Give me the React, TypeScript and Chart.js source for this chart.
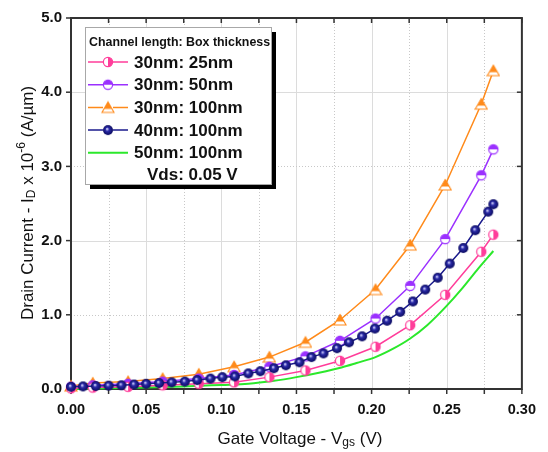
import React, { useEffect, useRef } from 'react';
import { Chart, registerables } from 'chart.js';
Chart.register(...registerables);

const xTickValues = [0, 0.05, 0.1, 0.15, 0.2, 0.25, 0.3];
const xTickLabels = ['0.00', '0.05', '0.10', '0.15', '0.20', '0.25', '0.30'];
const yTickValues = [0, 1, 2, 3, 4, 5];
const yTickLabels = ['0.0', '1.0', '2.0', '3.0', '4.0', '5.0'];

const seriesNames = ['30nm: 25nm', '30nm: 50nm', '30nm: 100nm', '40nm: 100nm', '50nm: 100nm'];
const legendTitle = 'Channel length: Box thickness';
const legendNote = 'Vds: 0.05 V';

const coarseVgs = [0, 0.0145, 0.038, 0.061, 0.085, 0.1085, 0.132, 0.156, 0.179, 0.2026, 0.2257, 0.249, 0.273, 0.281];
const id30nm25nm = [0.01, 0.02, 0.03, 0.05, 0.07, 0.09, 0.16, 0.25, 0.38, 0.57, 0.86, 1.27, 1.85, 2.08];
const id30nm50nm = [0.03, 0.05, 0.07, 0.1, 0.14, 0.19, 0.3, 0.44, 0.65, 0.95, 1.39, 2.02, 2.88, 3.23];
const id30nm100nm = [0.04, 0.08, 0.1, 0.14, 0.2, 0.3, 0.43, 0.63, 0.93, 1.34, 1.94, 2.75, 3.84, 4.29];

const fineVgs = [0, 0.008, 0.0165, 0.025, 0.0336, 0.042, 0.05, 0.0586, 0.067, 0.0757, 0.084, 0.0928, 0.1007, 0.109, 0.118, 0.126, 0.135, 0.143, 0.152, 0.16, 0.168, 0.177, 0.185, 0.1937, 0.2022, 0.2103, 0.219, 0.2275, 0.2357, 0.244, 0.252, 0.261, 0.269, 0.2776, 0.281];
const id40nm100nm = [0.03, 0.035, 0.04, 0.045, 0.05, 0.06, 0.07, 0.08, 0.09, 0.1, 0.12, 0.14, 0.16, 0.17, 0.21, 0.24, 0.28, 0.32, 0.36, 0.43, 0.48, 0.55, 0.63, 0.71, 0.815, 0.92, 1.04, 1.18, 1.34, 1.5, 1.69, 1.9, 2.14, 2.39, 2.49];

const smoothVgs = [0, 0.025, 0.05, 0.075, 0.1, 0.118, 0.135, 0.15, 0.165, 0.18, 0.19, 0.2026, 0.215, 0.2257, 0.237, 0.249, 0.26, 0.27, 0.281];
const id50nm100nm = [0.0, 0.01, 0.02, 0.035, 0.055, 0.07, 0.11, 0.16, 0.22, 0.29, 0.35, 0.43, 0.55, 0.68, 0.86, 1.1, 1.35, 1.6, 1.86];

const PINK = '#ff3d9a';
const PURPLE = '#9b30ff';
const ORANGE = '#ff8a1a';
const NAVY = '#1a1a8c';
const GREEN = '#2be82b';
const FONT = '"Liberation Sans", Arial, sans-serif';

function makeMarker(kind: string): HTMLCanvasElement {
  const c = document.createElement('canvas');
  c.width = 14;
  c.height = 14;
  const g = c.getContext('2d')!;
  const cx = 7, cy = 7, r = 4.6;
  if (kind === 'pink' || kind === 'purple') {
    const col = kind === 'pink' ? PINK : PURPLE;
    g.beginPath(); g.arc(cx, cy, r, 0, Math.PI * 2); g.fillStyle = '#fff'; g.fill();
    g.beginPath();
    if (kind === 'pink') g.arc(cx, cy, r, -Math.PI / 2, Math.PI / 2);
    else g.arc(cx, cy, r, Math.PI, Math.PI * 2);
    g.closePath(); g.fillStyle = col; g.fill();
    g.beginPath(); g.arc(cx, cy, r, 0, Math.PI * 2);
    g.lineWidth = 1.2; g.strokeStyle = col; g.stroke();
  } else if (kind === 'orange') {
    const path = () => { g.beginPath(); g.moveTo(cx, cy - 5.5); g.lineTo(cx + 6, cy + 5); g.lineTo(cx - 6, cy + 5); g.closePath(); };
    path(); g.fillStyle = '#fff'; g.fill();
    g.save(); path(); g.clip(); g.fillStyle = ORANGE; g.fillRect(0, 0, 14, cy + 1.5); g.restore();
    path(); g.lineWidth = 1.1; g.strokeStyle = ORANGE; g.stroke();
  } else {
    const grd = g.createRadialGradient(cx - 1, cy - 1.2, 0.3, cx, cy, 5);
    grd.addColorStop(0, '#d8d8ff');
    grd.addColorStop(0.35, '#2a2aa8');
    grd.addColorStop(1, '#0a0a5e');
    g.beginPath(); g.arc(cx, cy, 5, 0, Math.PI * 2); g.fillStyle = grd; g.fill();
  }
  return c;
}

function drawRich(ctx: CanvasRenderingContext2D, parts: { t: string; s: number; dy: number }[], cx: number, cy: number) {
  let total = 0;
  for (const p of parts) { ctx.font = `${p.s}px ${FONT}`; total += ctx.measureText(p.t).width; }
  let x = cx - total / 2;
  ctx.textBaseline = 'middle';
  ctx.textAlign = 'left';
  for (const p of parts) {
    ctx.font = `${p.s}px ${FONT}`;
    ctx.fillText(p.t, x, cy + p.dy);
    x += ctx.measureText(p.t).width;
  }
}

export default function App() {
  const ref = useRef<HTMLCanvasElement | null>(null);
  useEffect(() => {
    const canvas = ref.current!;
    const mPink = makeMarker('pink');
    const mPurple = makeMarker('purple');
    const mOrange = makeMarker('orange');
    const mNavy = makeMarker('navy');

    const pts = (xs: number[], ys: number[]) => xs.map((x, i) => ({ x, y: ys[i] }));

    const framePlugin = {
      id: 'frame',
      beforeDatasetsDraw(chart: any) {
        const { ctx, chartArea: a, scales } = chart;
        const xs = scales.x, ys = scales.y;
        ctx.save();
        // grid
        for (let i = 1; i < 12; i++) {
          const v = i * 0.025;
          const px = Math.round(xs.getPixelForValue(v)) + 0.5;
          ctx.beginPath();
          ctx.lineWidth = 1;
          if (i % 2 === 0) { ctx.setLineDash([]); ctx.strokeStyle = '#dcdcdc'; }
          else { ctx.setLineDash([1, 2]); ctx.strokeStyle = '#c8c8c8'; }
          ctx.moveTo(px, a.top); ctx.lineTo(px, a.bottom); ctx.stroke();
        }
        for (let v = 1; v < 5; v++) {
          const py = Math.round(ys.getPixelForValue(v)) + 0.5;
          ctx.beginPath();
          if (v % 2 === 0) { ctx.setLineDash([]); ctx.strokeStyle = '#dcdcdc'; }
          else { ctx.setLineDash([1, 2]); ctx.strokeStyle = '#c8c8c8'; }
          ctx.moveTo(a.left, py); ctx.lineTo(a.right, py); ctx.stroke();
        }
        ctx.setLineDash([]);
        // ticks
        ctx.strokeStyle = '#333';
        ctx.lineWidth = 1.5;
        for (let i = 0; i <= 12; i++) {
          const px = xs.getPixelForValue(i * 0.025);
          ctx.beginPath(); ctx.moveTo(px, a.bottom); ctx.lineTo(px, a.bottom + 5); ctx.stroke();
          ctx.beginPath(); ctx.moveTo(px, a.top); ctx.lineTo(px, a.top + 5); ctx.stroke();
        }
        for (let v = 0; v <= 5; v++) {
          const py = ys.getPixelForValue(v);
          ctx.beginPath(); ctx.moveTo(a.left - 5, py); ctx.lineTo(a.left, py); ctx.stroke();
          ctx.beginPath(); ctx.moveTo(a.right - 5, py); ctx.lineTo(a.right, py); ctx.stroke();
        }
        // frame
        ctx.lineWidth = 2;
        ctx.strokeStyle = '#333';
        ctx.strokeRect(a.left, a.top, a.right - a.left, a.bottom - a.top);
        ctx.restore();
      },
      afterDraw(chart: any) {
        const { ctx } = chart;
        ctx.save();
        ctx.fillStyle = '#111';
        // x title
        drawRich(ctx, [
          { t: 'Gate Voltage - V', s: 17, dy: 0 },
          { t: 'gs', s: 12, dy: 4 },
          { t: ' (V)', s: 17, dy: 0 },
        ], 300, 439);
        // y title
        ctx.save();
        ctx.translate(28, 203);
        ctx.rotate(-Math.PI / 2);
        drawRich(ctx, [
          { t: 'Drain Current - I', s: 17, dy: 0 },
          { t: 'D', s: 12, dy: 4 },
          { t: ' x 10', s: 17, dy: 0 },
          { t: '-6', s: 12, dy: -6 },
          { t: ' (A/\u00b5m)', s: 17, dy: 0 },
        ], 0, 0);
        ctx.restore();
        // legend
        const bx = 85, by = 27, bw = 186, bh = 157;
        ctx.fillStyle = '#000';
        ctx.fillRect(bx + 5, by + 5, bw, bh);
        ctx.fillStyle = '#fff';
        ctx.fillRect(bx, by, bw, bh);
        ctx.strokeStyle = '#a8a8a8';
        ctx.lineWidth = 1;
        ctx.strokeRect(bx + 0.5, by + 0.5, bw, bh);
        ctx.fillStyle = '#111';
        ctx.textBaseline = 'middle';
        ctx.textAlign = 'left';
        ctx.font = `bold 12.4px ${FONT}`;
        ctx.fillText(legendTitle, 89, 43);
        const cols = [PINK, PURPLE, ORANGE, NAVY, GREEN];
        const marks = [mPink, mPurple, mOrange, mNavy, null];
        seriesNames.forEach((name, i) => {
          const y = 62 + i * 22.7;
          ctx.strokeStyle = cols[i];
          ctx.lineWidth = i === 4 ? 2 : 1.5;
          ctx.beginPath(); ctx.moveTo(88, y); ctx.lineTo(128, y); ctx.stroke();
          const m = marks[i];
          if (m) {
            ctx.fillStyle = '#fff';
            ctx.fillRect(103, y - 6, 10, 12);
            ctx.drawImage(m, 108 - 7, y - 7);
          }
          ctx.fillStyle = '#111';
          ctx.font = `bold 17px ${FONT}`;
          ctx.fillText(name, 134, y + 1);
        });
        ctx.font = `bold 17px ${FONT}`;
        ctx.fillText(legendNote, 147, 175);
        ctx.restore();
      },
    };

    const chart = new Chart(canvas, {
      type: 'line',
      data: {
        datasets: [
          { label: seriesNames[3], data: pts(fineVgs, id40nm100nm), borderColor: NAVY, borderWidth: 1.5, pointStyle: mNavy as any, pointRadius: 5, clip: false as any },
          { label: seriesNames[0], data: pts(coarseVgs, id30nm25nm), borderColor: PINK, borderWidth: 1.5, pointStyle: mPink as any, pointRadius: 5, clip: false as any },
          { label: seriesNames[1], data: pts(coarseVgs, id30nm50nm), borderColor: PURPLE, borderWidth: 1.5, pointStyle: mPurple as any, pointRadius: 5, clip: false as any },
          { label: seriesNames[2], data: pts(coarseVgs, id30nm100nm), borderColor: ORANGE, borderWidth: 1.5, pointStyle: mOrange as any, pointRadius: 5, clip: false as any },
          { label: seriesNames[4], data: pts(smoothVgs, id50nm100nm), borderColor: GREEN, borderWidth: 2, pointRadius: 0, cubicInterpolationMode: 'monotone', clip: false as any },
        ],
      },
      options: {
        responsive: false,
        animation: false,
        layout: { padding: { left: 0, top: 15, right: 21, bottom: 0 } },
        plugins: { legend: { display: false }, tooltip: { enabled: false } },
        scales: {
          x: {
            type: 'linear',
            min: 0,
            max: 0.3,
            grid: { display: false, drawTicks: false },
            border: { display: false },
            afterBuildTicks: (s: any) => { s.ticks = xTickValues.map((v) => ({ value: v })); },
            afterFit: (s: any) => { s.height = 63; },
            ticks: {
              padding: 12,
              color: '#111',
              font: { family: FONT, size: 14.5, weight: 'bold' },
              callback: (_v: any, i: number) => xTickLabels[i],
              maxRotation: 0,
              autoSkip: false,
            },
          },
          y: {
            type: 'linear',
            min: 0,
            max: 5,
            grid: { display: false, drawTicks: false },
            border: { display: false },
            afterBuildTicks: (s: any) => { s.ticks = yTickValues.map((v) => ({ value: v })); },
            afterFit: (s: any) => { s.width = 71; },
            ticks: {
              padding: 9,
              color: '#111',
              font: { family: FONT, size: 15, weight: 'bold' },
              callback: (_v: any, i: number) => yTickLabels[i],
              autoSkip: false,
            },
          },
        },
      } as any,
      plugins: [framePlugin],
    });
    return () => chart.destroy();
  }, []);
  return (
    <div style={{ position: 'absolute', left: 0, top: 0, width: 548, height: 452, background: '#fff' }}>
      <canvas ref={ref} width={548} height={452} style={{ display: 'block' }} />
    </div>
  );
}
